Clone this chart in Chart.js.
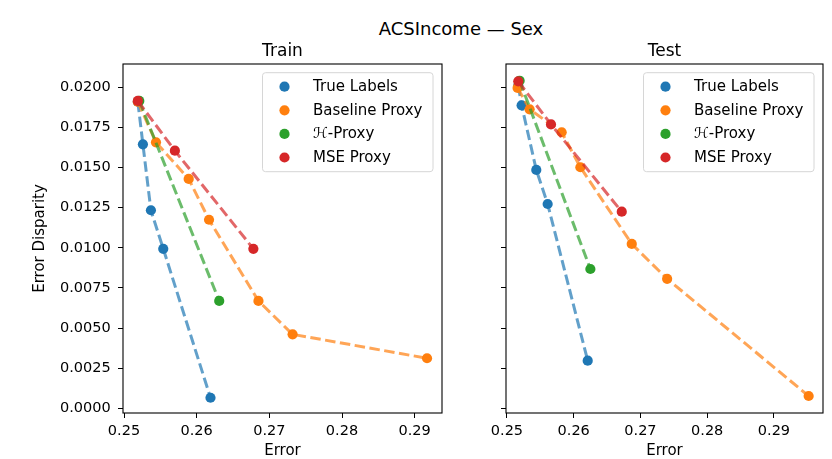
<!DOCTYPE html>
<html>
<head>
<meta charset="utf-8">
<script src="https://cdn.jsdelivr.net/npm/chart.js@4.4.1/dist/chart.umd.min.js"></script>
<style>
  html, body { margin: 0; padding: 0; background: #fff; }
  #fig { position: relative; width: 832px; height: 459px; overflow: hidden; font-family: 'DejaVu Sans', sans-serif; }
  #suptitle { position: absolute; left: 311px; top: 20px; width: 300px; text-align: center; font-size: 18px; line-height: 18px; color: #000; }
  #train { position: absolute; left: 0; top: 0; }
  #test { position: absolute; left: 450px; top: 0; }
</style>
</head>
<body>
<div id="fig">
  <div id="suptitle">ACSIncome — Sex</div>
  <canvas id="train" width="450" height="459"></canvas>
  <canvas id="test" width="382" height="459"></canvas>
</div>
<script>
  var SERIES = ['True Labels', 'Baseline Proxy', '\u210B-Proxy', 'MSE Proxy'];
  var COLORS = ['#1f77b4', '#ff7f0e', '#2ca02c', '#d62728'];
  var LINE_COLORS = ['rgba(31,119,180,0.7)', 'rgba(255,127,14,0.7)', 'rgba(44,160,44,0.7)', 'rgba(214,39,40,0.7)'];

  var xTicks = [0.25, 0.26, 0.27, 0.28, 0.29];
  var yTicks = [0, 0.0025, 0.005, 0.0075, 0.01, 0.0125, 0.015, 0.0175, 0.02];

  // Train: error (x) vs error disparity (y)
  var trainTrueErr = [0.2519, 0.2526, 0.2537, 0.2554, 0.2619];
  var trainTrueDisp = [0.0191, 0.01645, 0.01234, 0.00994, 0.00066];
  var trainBaseErr = [0.2519, 0.2544, 0.2589, 0.2617, 0.2685, 0.2732, 0.2917];
  var trainBaseDisp = [0.0191, 0.01657, 0.01429, 0.01175, 0.00669, 0.00461, 0.00312];
  var trainHErr = [0.2521, 0.2631];
  var trainHDisp = [0.01915, 0.00669];
  var trainMseErr = [0.2519, 0.2570, 0.2678];
  var trainMseDisp = [0.01915, 0.01605, 0.00994];

  // Test
  var testTrueErr = [0.2517, 0.2522, 0.2544, 0.2561, 0.2621];
  var testTrueDisp = [0.0201, 0.01888, 0.01485, 0.01273, 0.00297];
  var testBaseErr = [0.2516, 0.2534, 0.2582, 0.2610, 0.2687, 0.2740, 0.2952];
  var testBaseDisp = [0.01996, 0.01863, 0.0172, 0.01502, 0.01024, 0.00807, 0.00077];
  var testHErr = [0.2519, 0.2625];
  var testHDisp = [0.02041, 0.00868];
  var testMseErr = [0.2517, 0.2566, 0.2672];
  var testMseDisp = [0.02037, 0.01769, 0.01225];

  Chart.defaults.font.family = "'DejaVu Sans', sans-serif";
  Chart.defaults.color = '#000';

  function pts(xs, ys) {
    return xs.map(function (x, i) { return { x: x, y: ys[i] }; });
  }

  // matplotlib-style full box around the axes
  var frame = {
    id: 'frame',
    afterDatasetsDraw: function (chart) {
      var a = chart.chartArea, ctx = chart.ctx;
      ctx.save();
      ctx.strokeStyle = '#000';
      ctx.lineWidth = 1.1;
      ctx.strokeRect(a.left, a.top, a.right - a.left, a.bottom - a.top);
      ctx.restore();
    }
  };

  // legend box in the upper right corner of the axes
  var boxLegend = {
    id: 'boxLegend',
    afterDraw: function (chart) {
      var a = chart.chartArea, ctx = chart.ctx;
      var w = 170.5, h = 99;
      var x0 = a.right - 9 - w, y0 = a.top + 8.7;
      ctx.save();
      ctx.beginPath();
      ctx.roundRect(x0, y0, w, h, 3);
      ctx.fillStyle = 'rgba(255,255,255,0.8)';
      ctx.fill();
      ctx.strokeStyle = '#d6d6d6';
      ctx.lineWidth = 1;
      ctx.stroke();
      ctx.font = "15px 'DejaVu Sans'";
      ctx.textBaseline = 'middle';
      SERIES.forEach(function (name, i) {
        var cy = y0 + 14 + i * 23.6;
        ctx.beginPath();
        ctx.arc(x0 + 22, cy, 5.1, 0, Math.PI * 2);
        ctx.fillStyle = COLORS[i];
        ctx.fill();
        ctx.fillStyle = '#000';
        ctx.fillText(name, x0 + 50.5, cy + 0.5);
      });
      ctx.restore();
    }
  };

  function makeDatasets(series) {
    return series.map(function (d, i) {
      return {
        label: SERIES[i],
        data: d,
        showLine: true,
        borderColor: LINE_COLORS[i],
        borderWidth: 3,
        borderDash: [10.5, 4.5],
        backgroundColor: COLORS[i],
        pointBackgroundColor: COLORS[i],
        pointBorderWidth: 0,
        pointRadius: 5.1,
        order: 4 - i
      };
    });
  }

  function build(canvasId, title, series, xMax, yWidth, padRight, showYLabels) {
    return new Chart(document.getElementById(canvasId), {
      type: 'scatter',
      data: { datasets: makeDatasets(series) },
      plugins: [frame, boxLegend],
      options: {
        responsive: false,
        animation: false,
        events: [],
        layout: { padding: { left: 0, right: padRight, top: 0, bottom: 0 } },
        plugins: {
          legend: { display: false },
          tooltip: { enabled: false },
          title: {
            display: true,
            text: title,
            fullSize: false,
            color: '#000',
            font: { size: 17, weight: 'normal', lineHeight: 1.2 },
            padding: { top: 41, bottom: 2.6 }
          }
        },
        scales: {
          x: {
            type: 'linear',
            min: 0.24986,
            max: xMax,
            afterBuildTicks: function (s) { s.ticks = xTicks.map(function (v) { return { value: v }; }); },
            afterFit: function (s) { s.height = 46; },
            ticks: {
              callback: function (v) { return v.toFixed(2); },
              font: { size: 14.5 },
              color: '#000',
              padding: 5,
              maxRotation: 0,
              autoSkip: false
            },
            grid: { drawOnChartArea: false, drawTicks: true, tickLength: 5, color: '#000', lineWidth: 1 },
            border: { display: false },
            title: { display: true, text: 'Error', color: '#000', font: { size: 15, lineHeight: 1 }, padding: { top: 0, bottom: 0 } }
          },
          y: {
            type: 'linear',
            min: -0.00029,
            max: 0.021452,
            afterBuildTicks: function (s) { s.ticks = yTicks.map(function (v) { return { value: v }; }); },
            afterFit: function (s) { s.width = yWidth; },
            ticks: {
              display: showYLabels,
              callback: function (v) { return v.toFixed(4); },
              font: { size: 14.5 },
              color: '#000',
              padding: 7.3,
              autoSkip: false
            },
            grid: { drawOnChartArea: false, drawTicks: true, tickLength: 5, color: '#000', lineWidth: 1 },
            border: { display: false },
            title: {
              display: showYLabels,
              text: 'Error Disparity',
              color: '#000',
              font: { size: 15, lineHeight: 1 },
              padding: { top: 33, bottom: 0 }
            }
          }
        }
      }
    });
  }

  build('train', 'Train', [
    pts(trainTrueErr, trainTrueDisp),
    pts(trainBaseErr, trainBaseDisp),
    pts(trainHErr, trainHDisp),
    pts(trainMseErr, trainMseDisp)
  ], 0.29376, 123, 8, true);

  build('test', 'Test', [
    pts(testTrueErr, testTrueDisp),
    pts(testBaseErr, testBaseDisp),
    pts(testHErr, testHDisp),
    pts(testMseErr, testMseDisp)
  ], 0.29735, 56, 9, false);
</script>
</body>
</html>
